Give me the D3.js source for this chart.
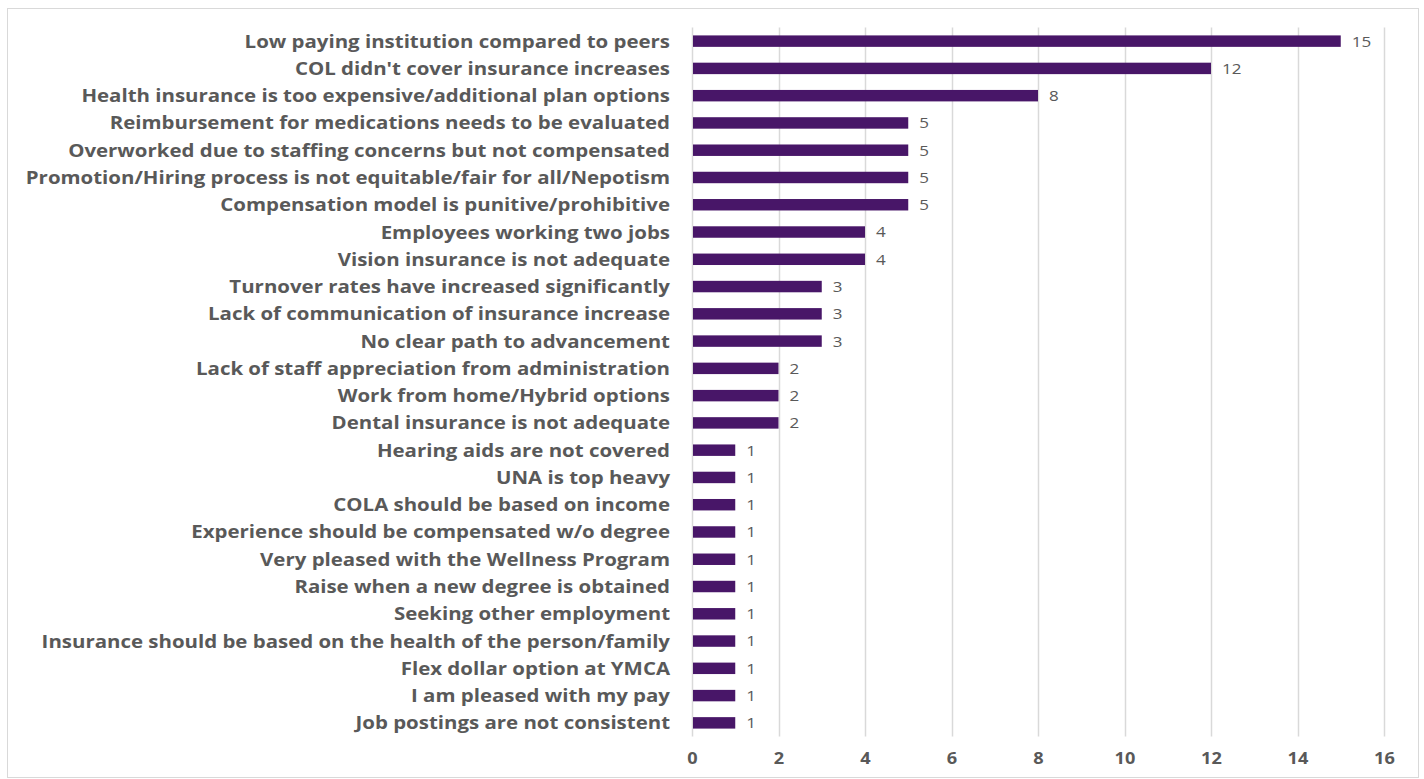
<!DOCTYPE html>
<html>
<head>
<meta charset="utf-8">
<script src="https://cdn.jsdelivr.net/npm/d3@7"></script>
<style>
  body { margin: 0; background: #fff; }
  svg { display: block; }
</style>
</head>
<body>
<script>
(function() {
    "use strict";

    //categories, top to bottom
    var categories = [
        "Low paying institution compared to peers",
        "COL didn't cover insurance increases",
        "Health insurance is too expensive/additional plan options",
        "Reimbursement for medications needs to be evaluated",
        "Overworked due to staffing concerns but not compensated",
        "Promotion/Hiring process is not equitable/fair for all/Nepotism",
        "Compensation model is punitive/prohibitive",
        "Employees working two jobs",
        "Vision insurance is not adequate",
        "Turnover rates have increased significantly",
        "Lack of communication of insurance increase",
        "No clear path to advancement",
        "Lack of staff appreciation from administration",
        "Work from home/Hybrid options",
        "Dental insurance is not adequate",
        "Hearing aids are not covered",
        "UNA is top heavy",
        "COLA should be based on income",
        "Experience should be compensated w/o degree",
        "Very pleased with the Wellness Program",
        "Raise when a new degree is obtained",
        "Seeking other employment",
        "Insurance should be based on the health of the person/family",
        "Flex dollar option at YMCA",
        "I am pleased with my pay",
        "Job postings are not consistent"
    ];
    var counts = [15, 12, 8, 5, 5, 5, 5, 4, 4, 3, 3, 3, 2, 2, 2, 1, 1, 1, 1, 1, 1, 1, 1, 1, 1, 1];
    var xTicks = [0, 2, 4, 6, 8, 10, 12, 14, 16];

    var WIDTH = 1424, HEIGHT = 779;
    var margin = { left: 692, right: 40, top: 27.5, bottom: 42.5 };
    var TEXT_COLOR = "#595959";
    var BAR_COLOR = "#481668";
    var FONT = "'Open Sans', sans-serif";
    var STRETCH = 1.135;  //the source picture is a bit wider than tall

    var svg = d3.select("body").append("svg")
        .attr("width", WIDTH)
        .attr("height", HEIGHT);

    //chart border
    svg.append("rect")
        .attr("x", 7.5).attr("y", 8.5)
        .attr("width", 1411).attr("height", 769)
        .attr("fill", "#fff")
        .attr("stroke", "#d9d9d9")
        .attr("stroke-width", 1);

    var x = d3.scaleLinear()
        .domain([0, 16])
        .range([margin.left, WIDTH - margin.right]);

    var y = d3.scaleBand()
        .domain(categories)
        .range([margin.top, HEIGHT - margin.bottom])
        .paddingInner(0.58)
        .paddingOuter(0.29);

    function place(px, py) {
        return "translate(" + px + "," + py + ") scale(" + STRETCH + ",1)";
    }

    //vertical gridlines
    svg.append("g")
        .selectAll("line")
        .data(xTicks)
        .enter()
        .append("line")
        .attr("x1", function(d) { return Math.round(x(d)) + 0.5; })
        .attr("x2", function(d) { return Math.round(x(d)) + 0.5; })
        .attr("y1", margin.top)
        .attr("y2", HEIGHT - margin.bottom)
        .attr("stroke", "#d9d9d9")
        .attr("stroke-width", 1.5);

    //bars
    svg.append("g")
        .selectAll("rect")
        .data(counts)
        .enter()
        .append("rect")
        .attr("x", x(0) + 1)
        .attr("y", function(d, i) { return y(categories[i]); })
        .attr("width", function(d) { return x(d) - x(0) - 1; })
        .attr("height", y.bandwidth())
        .attr("fill", BAR_COLOR);

    //value labels
    svg.append("g")
        .selectAll("text")
        .data(counts)
        .enter()
        .append("text")
        .text(function(d) { return d; })
        .attr("transform", function(d, i) {
            return place(x(d) + 11, y(categories[i]) + y.bandwidth() / 2);
        })
        .attr("dy", "0.36em")
        .attr("fill", TEXT_COLOR)
        .style("font-family", FONT)
        .style("font-size", "15px");

    //category labels
    svg.append("g")
        .selectAll("text")
        .data(categories)
        .enter()
        .append("text")
        .text(function(d) { return d; })
        .attr("transform", function(d) {
            return place(margin.left - 22, y(d) + y.bandwidth() / 2);
        })
        .attr("dy", "0.36em")
        .attr("text-anchor", "end")
        .attr("fill", TEXT_COLOR)
        .style("font-family", FONT)
        .style("font-weight", "bold")
        .style("font-size", "18px");

    //x axis tick labels
    var xAxis = d3.axisBottom(x)
        .tickValues(xTicks)
        .tickSize(0)
        .tickPadding(0);
    var gx = svg.append("g")
        .attr("transform", "translate(0," + (HEIGHT - margin.bottom) + ")")
        .call(xAxis);
    gx.select(".domain").remove();
    gx.selectAll("text")
        .attr("y", 0)
        .attr("dy", 0)
        .attr("transform", place(0, 27))
        .attr("fill", TEXT_COLOR)
        .style("font-family", FONT)
        .style("font-weight", "bold")
        .style("font-size", "16px");
}());
</script>
</body>
</html>
